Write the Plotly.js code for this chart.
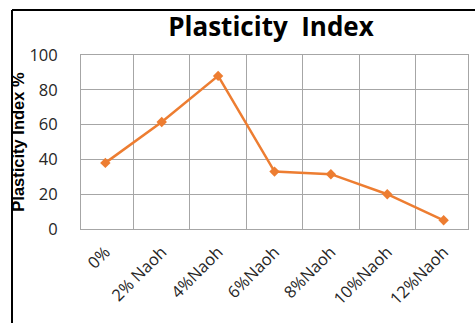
<!DOCTYPE html>
<html>
<head>
<meta charset="utf-8">
<script src="https://cdn.plot.ly/plotly-3.0.1.min.js"></script>
<style>html,body{margin:0;padding:0;background:#fff;}#chart{width:475px;height:323px;}</style>
</head>
<body>
<div id="chart"></div>
<script>
const categories = ["0%", "2% Naoh", "4%Naoh", "6%Naoh", "8%Naoh", "10%Naoh", "12%Naoh"];
const plasticityIndex = [38, 61.5, 88, 33, 31.5, 20, 5];
const yTicks = [0, 20, 40, 60, 80, 100];

const trace = {
  x: categories,
  y: plasticityIndex,
  type: "scatter",
  mode: "lines+markers",
  line: {color: "#ED7D31", width: 2.5},
  marker: {symbol: "diamond", size: 8, color: "#ED7D31"},
  hoverinfo: "none"
};

const W = 475, H = 323, L = 81, R = 7, T = 55, B = 94;
const pw = W - L - R, ph = H - T - B;
const px = v => (v - L) / pw;
const py = v => (H - B - v) / ph;

const layout = {
  width: W, height: H,
  margin: {l: L, r: R, t: T, b: B},
  paper_bgcolor: "#ffffff",
  plot_bgcolor: "#ffffff",
  showlegend: false,
  title: {
    text: "<b>Plasticity  Index</b>",
    font: {family: "Open Sans, sans-serif", size: 26, color: "#000000"},
    x: px(271), xanchor: "center", xref: "paper",
    y: 1 - 27 / H, yanchor: "middle"
  },
  xaxis: {
    type: "category",
    tickangle: -45,
    tickson: "boundaries",
    showgrid: true,
    gridcolor: "#A6A6A6",
    gridwidth: 1,
    showline: true, mirror: true, linecolor: "#A6A6A6", linewidth: 1,
    ticks: "",
    ticklabelstandoff: 6,
    tickfont: {family: "Open Sans, sans-serif", size: 16.5, color: "#262626"},
    fixedrange: true
  },
  yaxis: {
    range: [0, 100],
    tickvals: yTicks,
    ticktext: yTicks.map(String),
    showgrid: true,
    gridcolor: "#A6A6A6",
    gridwidth: 1,
    zeroline: false,
    showline: true, mirror: true, linecolor: "#A6A6A6", linewidth: 1,
    ticks: "",
    ticklabelstandoff: 19,
    tickfont: {family: "Open Sans, sans-serif", size: 16.5, color: "#262626"},
    title: {
      text: "<b>Plasticity Index %</b>",
      font: {family: "Liberation Sans Narrow, Liberation Sans, sans-serif", size: 16.5, color: "#000000"},
      standoff: 0
    },
    fixedrange: true
  },
  shapes: [
    {type: "line", xref: "paper", yref: "paper", x0: px(12), x1: px(12), y0: py(10), y1: py(330), line: {color: "#000000", width: 2}},
    {type: "line", xref: "paper", yref: "paper", x0: px(12), x1: px(480), y0: py(10), y1: py(10), line: {color: "#000000", width: 2}}
  ]
};

Plotly.newPlot("chart", [trace], layout, {staticPlot: true, displayModeBar: false});
</script>
</body>
</html>
